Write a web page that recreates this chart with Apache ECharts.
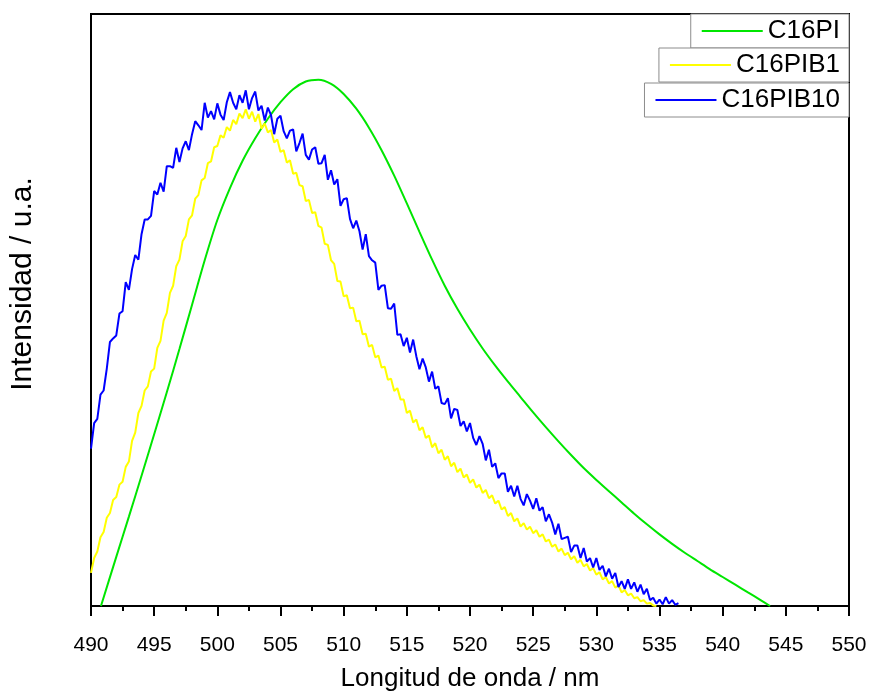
<!DOCTYPE html>
<html>
<head>
<meta charset="utf-8">
<script src="https://cdn.jsdelivr.net/npm/echarts@6/dist/echarts.min.js"></script>
<style>
  html, body { margin: 0; padding: 0; background: #fff; }
  #chart { width: 871px; height: 697px; }
</style>
</head>
<body>
<div id="chart"></div>
<script>
// ---- Data ----
const seriesNames = ['C16PI', 'C16PIB1', 'C16PIB10'];
const xTickLabels = [490, 495, 500, 505, 510, 515, 520, 525, 530, 535, 540, 545, 550];

// C16PI (smooth curve): wavelength (nm) and intensity (a.u.)
const greenX = [490.79, 492, 493, 494, 495, 496, 497, 498, 499, 500, 501, 502, 503, 504, 505, 506, 507, 508, 509, 510, 511, 512, 513, 514, 515, 516, 517, 518, 519, 520, 521, 522, 523, 524, 525, 526, 527, 528, 529, 530, 531, 532, 533, 534, 535, 536, 537, 538, 539, 540, 541, 542, 543, 543.75];
const greenY = [0, 8.3, 15.1, 22.0, 29.0, 36.1, 43.4, 50.9, 58.4, 65.2, 70.6, 75.2, 79.0, 82.3, 85.1, 87.3, 88.6, 88.9, 88.2, 86.5, 84.0, 80.8, 77.0, 72.7, 68.0, 63.2, 58.5, 54.1, 50.2, 46.7, 43.5, 40.6, 37.9, 35.3, 32.7, 30.2, 27.8, 25.5, 23.3, 21.3, 19.4, 17.5, 15.6, 13.8, 12.1, 10.5, 9.0, 7.6, 6.2, 4.9, 3.6, 2.3, 1.0, 0];

// C16PIB1 (noisy): sampled every 0.25 nm starting at 490 nm
const yellowStart = 490, yellowStep = 0.25;
const yellowY = [
  5.6, 8.1, 9.2, 11.6, 12.5, 14.9, 15.7, 17.9, 18.4, 20.5,
  21.0, 23.5, 24.4, 27.9, 29.3, 32.6, 33.8, 36.4, 37.1, 39.6,
  40.1, 43.6, 44.8, 48.2, 49.5, 52.9, 54.1, 57.4, 58.5, 61.6,
  62.5, 65.3, 66.0, 68.8, 69.4, 71.9, 72.3, 74.8, 75.1, 77.5,
  77.7, 79.5, 79.1, 80.9, 80.3, 82.1, 81.4, 83.2, 82.4, 83.9,
  82.3, 83.5, 81.8, 83.1, 80.6, 81.5, 80.0, 80.4, 78.3, 78.8,
  76.7, 77.0, 74.9, 75.3, 73.0, 73.2, 71.1, 70.9, 68.4, 68.6,
  66.4, 66.5, 64.2, 63.9, 61.2, 61.0, 58.4, 57.8, 54.9, 54.8,
  52.3, 52.5, 50.3, 50.4, 48.1, 48.2, 45.9, 46.0, 43.8, 44.1,
  42.0, 42.3, 40.3, 40.4, 38.2, 38.4, 36.3, 36.8, 34.9, 34.9,
  32.6, 33.0, 31.0, 31.5, 29.7, 30.2, 28.4, 28.8, 26.8, 27.5,
  25.8, 26.4, 24.7, 25.3, 23.6, 24.2, 22.6, 23.2, 21.7, 22.2,
  20.8, 21.4, 20.0, 20.5, 19.1, 19.6, 18.2, 18.7, 17.3, 17.8,
  16.3, 16.7, 15.2, 15.7, 14.3, 14.8, 13.4, 14.0, 12.9, 13.4,
  12.3, 12.8, 11.7, 12.1, 10.9, 11.2, 10.0, 10.4, 9.2, 9.7,
  8.6, 9.0, 7.9, 8.4, 7.3, 7.8, 6.7, 7.1, 6.0, 6.4,
  5.3, 5.7, 4.5, 4.9, 3.8, 4.2, 3.1, 3.5, 2.3, 2.7,
  1.8, 2.1, 1.3, 1.5, 0.8, 1.0, 0.4, 0.5, 0.1, 0.0
];

// C16PIB10 (noisy): sampled every 0.25 nm starting at 490 nm
const blueStart = 490, blueStep = 0.25;
const blueY = [
  26.6, 30.9, 31.6, 35.7, 36.4, 40.1, 44.6, 45.2, 45.7, 49.4,
  49.8, 54.7, 53.4, 56.9, 59.3, 58.5, 62.8, 65.3, 65.3, 65.9,
  70.1, 69.5, 71.5, 70.0, 74.3, 74.3, 74.0, 77.4, 75.0, 77.3,
  78.5, 77.0, 79.7, 81.9, 81.2, 80.4, 85.0, 82.5, 83.6, 82.2,
  84.9, 83.0, 82.1, 85.1, 86.8, 85.0, 83.9, 86.3, 85.0, 87.1,
  83.9, 85.8, 86.9, 83.7, 84.5, 82.0, 84.2, 82.9, 79.7, 82.3,
  82.8, 80.2, 79.0, 80.3, 80.5, 76.8, 78.2, 79.8, 76.2, 75.4,
  77.1, 77.5, 74.7, 74.8, 76.2, 72.0, 73.6, 71.2, 72.1, 67.6,
  68.7, 68.9, 65.4, 63.8, 65.1, 63.3, 60.2, 62.8, 59.1, 58.4,
  58.0, 53.4, 54.1, 54.2, 50.3, 50.2, 51.1, 45.8, 45.9, 43.9,
  45.3, 42.8, 45.0, 42.2, 40.0, 41.8, 40.3, 37.9, 39.6, 36.7,
  37.1, 34.3, 34.1, 35.1, 31.7, 33.3, 33.1, 30.4, 31.2, 29.5,
  30.9, 28.4, 27.2, 28.7, 27.4, 24.6, 26.4, 23.5, 24.1, 21.6,
  22.4, 22.4, 19.3, 20.3, 18.5, 20.3, 18.1, 17.0, 18.9, 17.8,
  16.4, 18.2, 16.1, 16.7, 14.3, 15.5, 14.1, 12.1, 13.9, 11.3,
  11.5, 11.7, 9.1, 10.2, 10.2, 8.1, 9.8, 7.5, 8.1, 6.5,
  8.1, 6.1, 6.8, 5.0, 6.3, 4.6, 5.6, 3.2, 4.2, 2.9,
  4.5, 2.9, 4.0, 2.4, 3.6, 2.0, 2.9, 1.0, 1.4, 0.4,
  1.1, 0.3, 1.5, 0.4, 1.0, 0.2, 0.5
];

// ---- Build the chart ----
const FONT = '"Liberation Sans", Arial, sans-serif';
const greenData = greenX.map((x, i) => [x, greenY[i]]);
const yellowData = yellowY.map((v, i) => [yellowStart + i * yellowStep, v]);
const blueData = blueY.map((v, i) => [blueStart + i * blueStep, v]);

const colors = ['#00E600', '#FFFF00', '#0000FF'];

function legendBox(name, top, color) {
  return {
    data: [name],
    right: 22,
    top: top,
    orient: 'horizontal',
    icon: 'rect',
    itemWidth: 61,
    itemHeight: 2,
    padding: [4, 9, 4, 11],
    borderColor: '#8c8c8c',
    borderWidth: 1,
    backgroundColor: '#fff',
    selectedMode: false,
    itemStyle: { color: color },
    textStyle: { fontSize: 26, color: '#000', fontFamily: FONT }
  };
}

const chart = echarts.init(document.getElementById('chart'), null, { renderer: 'canvas' });
chart.setOption({
  animation: false,
  backgroundColor: '#fff',
  textStyle: { fontFamily: FONT },
  grid: {
    left: 90, right: 22, top: 14, bottom: 89,
    show: true, borderColor: '#000', borderWidth: 2, backgroundColor: 'transparent'
  },
  legend: [
    legendBox(seriesNames[0], 14, colors[0]),
    legendBox(seriesNames[1], 48, colors[1]),
    legendBox(seriesNames[2], 83, colors[2])
  ],
  xAxis: {
    type: 'value', min: 490, max: 550, interval: 5,
    axisLine: { show: true, lineStyle: { color: '#000', width: 2 } },
    axisTick: { show: true, inside: false, length: 10, lineStyle: { color: '#000', width: 2 } },
    minorTick: { show: true, splitNumber: 2, length: 5, lineStyle: { color: '#000', width: 2 } },
    splitLine: { show: false },
    axisLabel: {
      fontSize: 21, color: '#000', margin: 29, fontFamily: FONT,
      formatter: v => (xTickLabels.indexOf(v) >= 0 ? String(v) : '')
    },
    name: 'Longitud de onda / nm', nameLocation: 'middle', nameGap: 60,
    nameTextStyle: { fontSize: 26, color: '#000', fontFamily: FONT }
  },
  yAxis: {
    type: 'value', min: 0, max: 100,
    axisLine: { show: true, lineStyle: { color: '#000', width: 2 } },
    axisTick: { show: false },
    axisLabel: { show: false },
    splitLine: { show: false },
    name: 'Intensidad / u.a.', nameLocation: 'middle', nameGap: 53,
    nameTextStyle: { fontSize: 30, color: '#000', fontFamily: FONT, padding: [0, 0, 0, 52] }
  },
  series: [
    { name: seriesNames[0], type: 'line', data: greenData, smooth: 0.3, symbol: 'none',
      lineStyle: { color: colors[0], width: 2 }, itemStyle: { color: colors[0] } },
    { name: seriesNames[1], type: 'line', data: yellowData, symbol: 'none',
      lineStyle: { color: colors[1], width: 2 }, itemStyle: { color: colors[1] } },
    { name: seriesNames[2], type: 'line', data: blueData, symbol: 'none',
      lineStyle: { color: colors[2], width: 2 }, itemStyle: { color: colors[2] } }
  ]
});
</script>
</body>
</html>
